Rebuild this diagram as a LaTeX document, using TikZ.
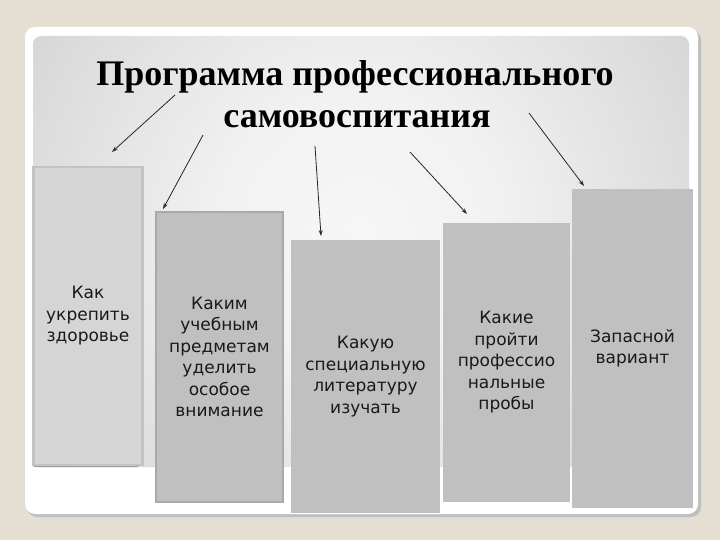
\documentclass[tikz,border=0pt]{standalone}
\usepackage{fontspec}
\setmainfont{DejaVu Sans}
\newfontfamily\titlefont{Liberation Serif}
\usetikzlibrary{arrows.meta}
\definecolor{pagebg}{HTML}{E4DED3}
\definecolor{pc0}{HTML}{F6F6F6}
\definecolor{pc1}{HTML}{F2F2F2}
\definecolor{pc2}{HTML}{D8D8D8}
\definecolor{pc3}{HTML}{BBBBBB}
\definecolor{pc4}{HTML}{A8A8A8}
\definecolor{boxfill}{HTML}{C0C0C0}
\definecolor{boxedge}{HTML}{A9A9A9}
\definecolor{lightbox}{HTML}{D5D5D5}
\definecolor{lightedge}{HTML}{C3C3C3}
\definecolor{boxshadow}{HTML}{9E9E9E}
\pgfdeclareradialshading{panelshade}{\pgfpoint{0bp}{0bp}}{color(0bp)=(pc0); color(8bp)=(pc1); color(22bp)=(pc2); color(38bp)=(pc3); color(48bp)=(pc4); color(50bp)=(pc4)}
\tikzset{
  col/.style={minimum width=#1, inner sep=0pt, align=center,
    font=\fontsize{17}{21.5}\selectfont, text=black!90},
  arr/.style={draw=black!85, line width=0.8pt, -{Stealth[length=6pt,width=4pt]}},
  ttl/.style={font=\titlefont\bfseries\fontsize{36}{42}\selectfont, anchor=base, inner sep=0pt}
}
\begin{document}
\begin{tikzpicture}[x=1pt,y=-1pt]
\useasboundingbox (0,0) rectangle (720,540);
\fill[pagebg] (0,0) rectangle (720,540);
% frame
\fill[black!25, rounded corners=10] (27,30) rectangle (701,517);
\fill[white, rounded corners=10] (25,27) rectangle (698,514);
\begin{scope}
  \clip[rounded corners=8] (33,36) rectangle (689,467);
  \shade[shading=panelshade] (360,230) circle (420);
\end{scope}
% title
\node[ttl] (title1) at (355,86) {Программа профессионального};
\node[ttl] (title2) at (357,128) {самовоспитания};
% boxes
\fill[boxshadow, rounded corners=3] (32,170) rectangle (140,467);
\node[col=109pt, minimum height=298pt, fill=lightbox, draw=lightedge, line width=2.5pt] (b1) at (88,316) {Как\\укрепить\\здоровье};
\node[col=127pt, minimum height=290pt, fill=boxfill, draw=boxedge, line width=2pt] (b2) at (219.5,357) {Каким\\учебным\\предметам\\уделить\\особое\\внимание};
\node[col=149pt, minimum height=273pt, fill=boxfill] (b3) at (365.5,376.5) {Какую\\специальную\\литературу\\изучать};
\node[col=127pt, minimum height=279pt, fill=boxfill] (b4) at (506.5,362.5) {Какие\\пройти\\профессио\\нальные\\пробы};
\node[col=121pt, minimum height=319pt, fill=boxfill] (b5) at (632.5,348.5) {Запасной\\вариант};
% arrows
\coordinate (s1) at (175,95);  \coordinate (e1) at (112,152);
\coordinate (s2) at (203,135); \coordinate (e2) at (163,209);
\coordinate (s3) at (315,146); \coordinate (e3) at (321,236);
\coordinate (s4) at (410,152); \coordinate (e4) at (467,214);
\coordinate (s5) at (529,113); \coordinate (e5) at (584,186);
\draw[arr] (s1) -- (e1);
\draw[arr] (s2) -- (e2);
\draw[arr] (s3) -- (e3);
\draw[arr] (s4) -- (e4);
\draw[arr] (s5) -- (e5);
\end{tikzpicture}
\end{document}
